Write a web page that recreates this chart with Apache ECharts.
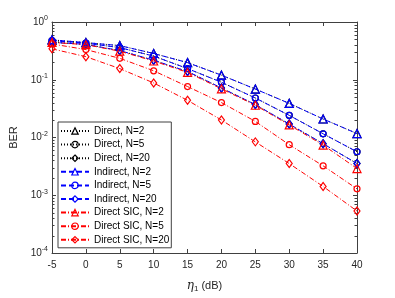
<!DOCTYPE html>
<html>
<head>
<meta charset="utf-8">
<script src="https://cdn.jsdelivr.net/npm/echarts@6/dist/echarts.min.js"></script>
<style>
html,body{margin:0;padding:0;background:#fff;}
#chart{width:395px;height:298px;}
</style>
</head>
<body>
<div id="chart"></div>
<script>
const eta = [-5, 0, 5, 10, 15, 20, 25, 30, 35, 40];
const direct2 = [0.49, 0.44, 0.39, 0.285, 0.198, 0.12, 0.069, 0.039, 0.0209, 0.0117];
const direct5 = [0.475, 0.43, 0.36, 0.257, 0.156, 0.0904, 0.0483, 0.0242, 0.0116, 0.00566];
const direct20 = [0.445, 0.41, 0.32, 0.218, 0.139, 0.072, 0.0372, 0.0171, 0.0078, 0.00354];
const indirect2 = [0.49, 0.44, 0.39, 0.285, 0.198, 0.12, 0.069, 0.039, 0.0209, 0.0117];
const indirect5 = [0.475, 0.43, 0.36, 0.257, 0.156, 0.0904, 0.0483, 0.0242, 0.0116, 0.00566];
const indirect20 = [0.445, 0.41, 0.32, 0.218, 0.139, 0.072, 0.0372, 0.0171, 0.0078, 0.00354];
const sic2 = [0.444, 0.405, 0.312, 0.211, 0.134, 0.0696, 0.0362, 0.0165, 0.0074, 0.0029];
const sic5 = [0.417, 0.333, 0.235, 0.143, 0.0762, 0.0402, 0.019, 0.0075, 0.00323, 0.00129];
const sic20 = [0.343, 0.251, 0.156, 0.088, 0.044, 0.0201, 0.0084, 0.00354, 0.00142, 0.000533];
const xTicks = [-5, 0, 5, 10, 15, 20, 25, 30, 35, 40];
const yDecades = [0.0001, 0.001, 0.01, 0.1, 1];

const FONT = '"Liberation Sans", Arial, Helvetica, sans-serif';
const AX = '#404040';
const TXT = '#262626';

const minorVals = [];
for (let d = 0; d < yDecades.length - 1; d++) {
  for (let k = 2; k <= 9; k++) minorVals.push(yDecades[d] * k);
}

function pairs(arr) { return eta.map((x, i) => [x, arr[i]]); }

const dotted = [1, 2];
const dashed = [5, 3];
const dashdot = [5, 2, 1, 2];

function mk(name, arr, color, dash, symbol, size) {
  return {
    name: name, type: 'line', data: pairs(arr),
    xAxisIndex: 0, yAxisIndex: 0,
    symbol: symbol, symbolSize: size, showSymbol: true,
    lineStyle: { color: color, width: 1, type: dash },
    itemStyle: { color: 'rgba(255,255,255,0)', borderColor: color, borderWidth: 1.2 },
    emphasis: { disabled: true },
    animation: false
  };
}

const series = [
  mk('Direct, N=2', direct2, '#000000', dotted, 'triangle', 8),
  mk('Direct, N=5', direct5, '#000000', dotted, 'circle', 6),
  mk('Direct, N=20', direct20, '#000000', dotted, 'diamond', [6, 8]),
  mk('Indirect, N=2', indirect2, '#0000ff', dashed, 'triangle', 8),
  mk('Indirect, N=5', indirect5, '#0000ff', dashed, 'circle', 6),
  mk('Indirect, N=20', indirect20, '#0000ff', dashed, 'diamond', [6, 8]),
  mk('Direct SIC, N=2', sic2, '#ff0000', dashdot, 'triangle', 8),
  mk('Direct SIC, N=5', sic5, '#ff0000', dashdot, 'circle', 6),
  mk('Direct SIC, N=20', sic20, '#ff0000', dashdot, 'diamond', [6, 8]),
  {
    type: 'custom', silent: true, clip: false, animation: false,
    xAxisIndex: 0, yAxisIndex: 0,
    data: minorVals.map(v => [xTicks[0], v]),
    renderItem: function (params, api) {
      const v = api.value(1);
      const pL = api.coord([xTicks[0], v]);
      const pR = api.coord([xTicks[xTicks.length - 1], v]);
      const yL = Math.round(pL[1]) + 0.5;
      return {
        type: 'group',
        children: [
          { type: 'line', shape: { x1: pL[0], y1: yL, x2: pL[0] + 2.5, y2: yL }, style: { stroke: AX, lineWidth: 1 } },
          { type: 'line', shape: { x1: pR[0] - 2.5, y1: yL, x2: pR[0], y2: yL }, style: { stroke: AX, lineWidth: 1 } }
        ]
      };
    },
    z: 1
  }
];

const chart = echarts.init(document.getElementById('chart'), null, { renderer: 'canvas' });
chart.setOption({
  animation: false,
  backgroundColor: '#ffffff',
  grid: { left: 52, right: 38, top: 22, bottom: 41, containLabel: false },
  xAxis: [
    {
      type: 'value', min: -5, max: 40, interval: 5, position: 'bottom',
      name: '{i|η}{s|1} (dB)', nameLocation: 'middle', nameGap: 26,
      nameTextStyle: {
        fontFamily: FONT, fontSize: 11, color: TXT,
        rich: {
          i: { fontFamily: '"DejaVu Serif", serif', fontStyle: 'italic', fontSize: 12, color: TXT },
          s: { fontFamily: FONT, fontSize: 8, color: TXT, padding: [6, 0, 0, 0] }
        }
      },
      axisLine: { show: true, onZero: false, lineStyle: { color: AX, width: 1 } },
      axisTick: { show: true, inside: true, length: 4, lineStyle: { color: AX } },
      axisLabel: { show: true, margin: 7, fontFamily: FONT, fontSize: 10, color: TXT },
      splitLine: { show: false }
    },
    {
      type: 'value', min: -5, max: 40, interval: 5, position: 'top',
      axisLine: { show: true, onZero: false, lineStyle: { color: AX, width: 1 } },
      axisTick: { show: true, inside: true, length: 4, lineStyle: { color: AX } },
      axisLabel: { show: false },
      splitLine: { show: false }
    }
  ],
  yAxis: [
    {
      type: 'log', logBase: 10, min: 0.0001, max: 1, position: 'left',
      name: 'BER', nameLocation: 'middle', nameGap: 26, nameRotate: 90,
      nameTextStyle: { fontFamily: FONT, fontSize: 11, color: TXT },
      axisLine: { show: true, onZero: false, lineStyle: { color: AX, width: 1 } },
      axisTick: { show: true, inside: true, length: 4, lineStyle: { color: AX } },
      axisLabel: {
        show: true, margin: 4, fontFamily: FONT, fontSize: 10, color: TXT,
        formatter: function (v) {
          const e = Math.round(Math.log10(v));
          return '{b|10}{s|' + e + '}';
        },
        rich: {
          b: { fontFamily: FONT, fontSize: 10, color: TXT },
          s: { fontFamily: FONT, fontSize: 7, color: TXT, padding: [0, 0, 7, 0] }
        }
      },
      splitLine: { show: false }
    },
    {
      type: 'log', logBase: 10, min: 0.0001, max: 1, position: 'right',
      axisLine: { show: true, onZero: false, lineStyle: { color: AX, width: 1 } },
      axisTick: { show: true, inside: true, length: 4, lineStyle: { color: AX } },
      axisLabel: { show: false },
      splitLine: { show: false }
    }
  ],
  legend: {
    show: true, orient: 'vertical', left: 58, top: 122,
    data: series.filter(s => s.name).map(s => s.name),
    itemWidth: 28, itemHeight: 8, itemGap: 3.6,
    padding: [4, 2, 3, 2],
    itemStyle: { color: 'rgba(255,255,255,0)', borderWidth: 1.2 },
    backgroundColor: '#ffffff', borderColor: AX, borderWidth: 1, borderRadius: 0,
    textStyle: { fontFamily: FONT, fontSize: 10, color: '#000000' },
    selectedMode: false
  },
  series: series
});
</script>
</body>
</html>
